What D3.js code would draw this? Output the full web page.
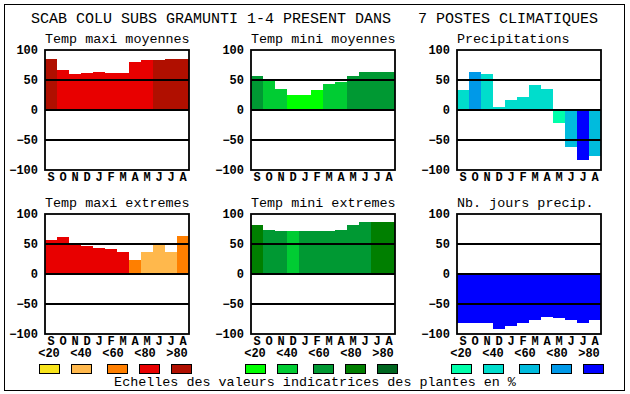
<!DOCTYPE html>
<meta charset="utf-8">
<style>
  body { margin: 0; background: #fff; }
  svg text { font-family: "Liberation Mono", "DejaVu Sans Mono", monospace; fill: #000; white-space: pre; }
  .bold { font-weight: bold; font-size: 12px; }
  .ttl { font-size: 13.4px; }
  .bar { shape-rendering: crispEdges; }
</style>
<body>
<svg id="chart"></svg>
<script src="https://cdn.jsdelivr.net/npm/d3@7"></script>
<script>

// data

var months = ["S", "O", "N", "D", "J", "F", "M", "A", "M", "J", "J", "A"];
var yTicks = [100, 50, 0, -50, -100];
var legendLabels = ["<20", "<40", "<60", "<80", ">80"];

var warmColors  = ["#f8e41c", "#ffb84c", "#ff7f00", "#e80000", "#b00f00"];
var greenColors = ["#00ff00", "#00cc33", "#009933", "#007f00", "#006620"];
var blueColors  = ["#00ffaa", "#00ddcc", "#00bbdd", "#0099e8", "#0000ff"];

var titles = ["Temp maxi moyennes", "Temp mini moyennes", "Precipitations",
              "Temp maxi extremes", "Temp mini extremes", "Nb. jours precip."];

var tmaxMoy      = [85, 67, 60, 62, 64, 62, 62, 80, 83, 83, 85, 85];
var tmaxMoyClass = [4, 3, 3, 3, 3, 3, 3, 3, 3, 4, 4, 4];
var tminMoy      = [57, 51, 35, 25, 25, 33, 44, 47, 57, 63, 63, 63];
var tminMoyClass = [2, 1, 1, 0, 0, 0, 1, 1, 2, 2, 2, 2];
var precip       = [33, 63, 60, 5, 17, 22, 42, 35, -21, -61, -83, -76];
var precipClass  = [1, 3, 1, 1, 1, 1, 1, 1, 0, 2, 4, 2];
var tmaxExt      = [56, 62, 52, 46, 44, 42, 36, 24, 36, 52, 37, 64];
var tmaxExtClass = [3, 3, 3, 3, 3, 3, 3, 2, 1, 1, 1, 2];
var tminExt      = [82, 74, 71, 71, 71, 71, 72, 74, 82, 86, 86, 86];
var tminExtClass = [3, 2, 2, 1, 2, 2, 2, 2, 2, 2, 3, 3];
var nbJours      = [-82, -82, -81, -92, -86, -81, -77, -71, -74, -77, -82, -76];
var nbJoursClass = [4, 4, 4, 4, 4, 4, 4, 4, 4, 4, 4, 4];

// layout

var w = 630, h = 394;
var pw = 144, ph = 120;
var cols = [45, 251, 457];
var rows = [50, 214];

var svg = d3.select("#chart").attr("width", w).attr("height", h);

svg.append("rect")
    .attr("x", 4.5).attr("y", 4.5)
    .attr("width", 620).attr("height", 386)
    .attr("fill", "none").attr("stroke", "#000").attr("stroke-width", 1);

svg.append("text")
    .attr("x", 31).attr("y", 23)
    .style("font-size", "15px")
    .text("SCAB COLU SUBS GRAMUNTI 1-4 PRESENT DANS   7 POSTES CLIMATIQUES");

var panels = [
    {title: titles[0], values: tmaxMoy, cls: tmaxMoyClass, pal: warmColors,  x: cols[0], y: rows[0]},
    {title: titles[1], values: tminMoy, cls: tminMoyClass, pal: greenColors, x: cols[1], y: rows[0]},
    {title: titles[2], values: precip,  cls: precipClass,  pal: blueColors,  x: cols[2], y: rows[0]},
    {title: titles[3], values: tmaxExt, cls: tmaxExtClass, pal: warmColors,  x: cols[0], y: rows[1]},
    {title: titles[4], values: tminExt, cls: tminExtClass, pal: greenColors, x: cols[1], y: rows[1]},
    {title: titles[5], values: nbJours, cls: nbJoursClass, pal: blueColors,  x: cols[2], y: rows[1]}
];

var x = d3.scaleBand().domain(d3.range(months.length)).range([0, pw]).padding(0);
var y = d3.scaleLinear().domain([-100, 100]).range([ph, 0]);

panels.forEach(function (p) {
    var g = svg.append("g").attr("transform", "translate(" + p.x + "," + p.y + ")");

    g.append("text").attr("class", "ttl")
        .attr("x", 0).attr("y", -7)
        .text(p.title);

    g.selectAll(".bar")
        .data(p.values)
        .enter().append("rect")
        .attr("class", "bar")
        .attr("x", function (d, i) { return x(i); })
        .attr("width", x.bandwidth())
        .attr("y", function (d) { return y(Math.max(d, 0)); })
        .attr("height", function (d) { return Math.abs(y(d) - y(0)); })
        .attr("fill", function (d, i) { return p.pal[p.cls[i]]; });

    g.selectAll(".grid")
        .data([50, 0, -50])
        .enter().append("line")
        .attr("x1", 0).attr("x2", pw)
        .attr("y1", function (d) { return y(d); })
        .attr("y2", function (d) { return y(d); })
        .attr("stroke", "#000").attr("stroke-width", 1.8);

    g.append("rect")
        .attr("width", pw).attr("height", ph)
        .attr("fill", "none").attr("stroke", "#000").attr("stroke-width", 1.8);

    var ya = g.append("g")
        .call(d3.axisLeft(y).tickValues(yTicks).tickSize(0).tickPadding(7));
    ya.select(".domain").remove();
    ya.selectAll("text").attr("class", "bold").attr("font-family", null).attr("font-size", null);

    var xa = g.append("g")
        .attr("transform", "translate(0," + ph + ")")
        .call(d3.axisBottom(x).tickSize(0).tickPadding(2).tickFormat(function (i) { return months[i]; }));
    xa.select(".domain").remove();
    xa.selectAll("text").attr("class", "bold").attr("font-family", null).attr("font-size", null);
});

// legends
var labelOffsets = [4, 36, 68, 100, 132];
var boxOffsets = [-6, 26, 62, 94, 126];
var palettes = [warmColors, greenColors, blueColors];

palettes.forEach(function (pal, k) {
    var g = svg.append("g").attr("transform", "translate(" + cols[k] + ",0)");
    g.selectAll(".lab")
        .data(legendLabels)
        .enter().append("text")
        .attr("class", "bold")
        .attr("x", function (d, i) { return labelOffsets[i]; })
        .attr("y", 357)
        .attr("text-anchor", "middle")
        .text(function (d) { return d; });
    g.selectAll(".box")
        .data(pal)
        .enter().append("rect")
        .attr("x", function (d, i) { return boxOffsets[i] + 0.5; })
        .attr("y", 364.5)
        .attr("width", 20).attr("height", 9)
        .attr("fill", function (d) { return d; })
        .attr("stroke", "#000").attr("stroke-width", 1);
});

svg.append("text").attr("class", "ttl")
    .attr("x", 315).attr("y", 386)
    .attr("text-anchor", "middle")
    .text("Echelles des valeurs indicatrices des plantes en %");

</script>
</body>
